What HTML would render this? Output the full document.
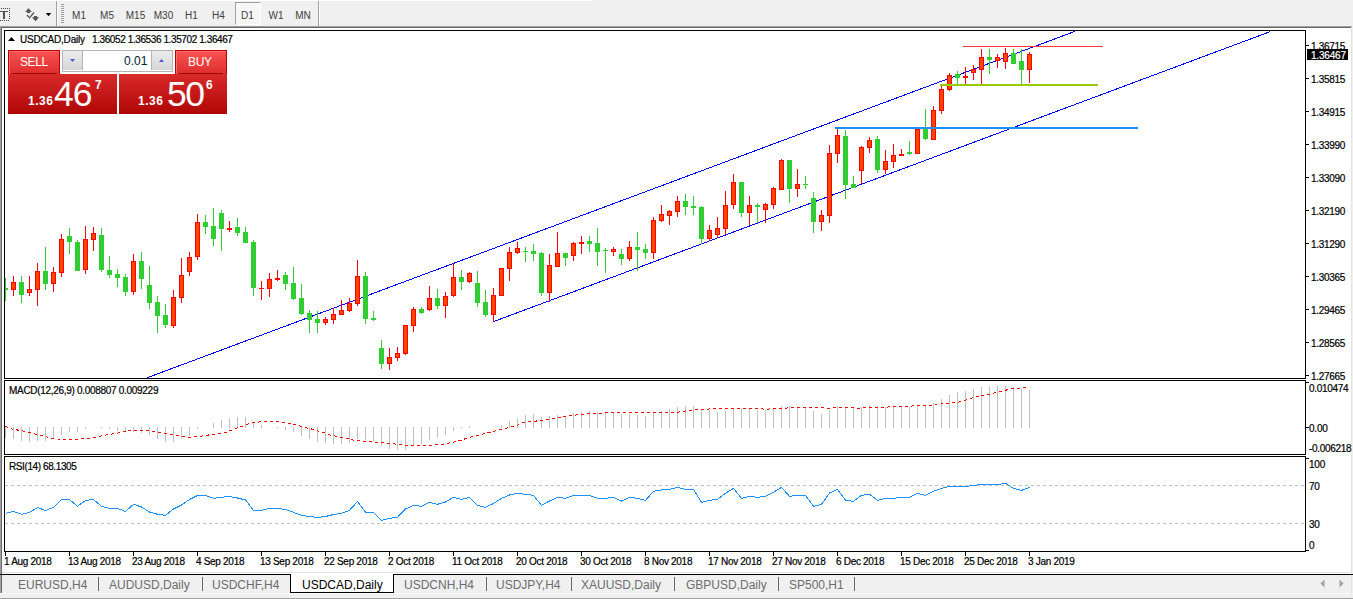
<!DOCTYPE html>
<html><head><meta charset="utf-8"><style>
html,body{margin:0;padding:0;}
body{width:1353px;height:599px;overflow:hidden;position:relative;background:#f0f0f0;font-family:"Liberation Sans", sans-serif;}
.a{position:absolute;}
.t{position:absolute;white-space:pre;line-height:1;-webkit-text-stroke:0.2px currentColor;}
svg{position:absolute;left:0;top:0;}
</style></head><body>

<div class="a" style="left:235px;top:2px;width:24px;height:21px;border:1px solid #a0a0a0;border-right-color:#fff;border-bottom-color:#fff;background:#f7f7f7"></div>
<svg width="1353" height="599" viewBox="0 0 1353 599" shape-rendering="crispEdges">
<g fill="#555">
<rect x="0" y="11" width="8" height="1" fill="#555"/><rect x="3" y="11" width="2" height="8" fill="#555"/>
<rect x="1" y="8" width="1" height="1" fill="#444"/>
<rect x="3" y="8" width="1" height="1" fill="#444"/>
<rect x="5" y="8" width="1" height="1" fill="#444"/>
<rect x="7" y="8" width="1" height="1" fill="#444"/>
<rect x="9" y="8" width="1" height="1" fill="#444"/>
<rect x="0" y="20" width="1" height="1" fill="#444"/>
<rect x="2" y="20" width="1" height="1" fill="#444"/>
<rect x="4" y="20" width="1" height="1" fill="#444"/>
<rect x="6" y="20" width="1" height="1" fill="#444"/>
<rect x="8" y="20" width="1" height="1" fill="#444"/>
<rect x="9" y="10" width="1" height="1" fill="#444"/>
<rect x="9" y="12" width="1" height="1" fill="#444"/>
<rect x="9" y="14" width="1" height="1" fill="#444"/>
<rect x="9" y="16" width="1" height="1" fill="#444"/>
<rect x="9" y="18" width="1" height="1" fill="#444"/>
</g>
<g shape-rendering="geometricPrecision">
<path d="M24.8 12 L28.5 8 L32.2 12 Z" fill="#505050" stroke="#fff" stroke-width="0.6" stroke-opacity="0.6"/>
<rect x="27" y="11.5" width="3" height="1.5" fill="#505050"/>
<path d="M27 15 L29.5 17.8 L34 12.5" stroke="#505050" stroke-width="1.25" fill="none"/>
<rect x="34" y="16" width="3" height="1.6" fill="#505050"/>
<path d="M32 17.3 L35.5 21.2 L39 17.3 Z" fill="#505050"/>
<path d="M45.8 13 L51.2 13 L48.5 16.2 Z" fill="#000"/>
</g>
<rect x="0" y="0" width="592" height="1" fill="#fff"/>
<rect x="56" y="1" width="1" height="25" fill="#a0a0a0"/><rect x="57" y="1" width="1" height="25" fill="#fff"/>
<rect x="61" y="4" width="3" height="1" fill="#a0a0a0"/>
<rect x="61" y="6" width="3" height="1" fill="#a0a0a0"/>
<rect x="61" y="8" width="3" height="1" fill="#a0a0a0"/>
<rect x="61" y="10" width="3" height="1" fill="#a0a0a0"/>
<rect x="61" y="12" width="3" height="1" fill="#a0a0a0"/>
<rect x="61" y="14" width="3" height="1" fill="#a0a0a0"/>
<rect x="61" y="16" width="3" height="1" fill="#a0a0a0"/>
<rect x="61" y="18" width="3" height="1" fill="#a0a0a0"/>
<rect x="61" y="20" width="3" height="1" fill="#a0a0a0"/>
<rect x="61" y="22" width="3" height="1" fill="#a0a0a0"/>
<rect x="318" y="1" width="1" height="25" fill="#a0a0a0"/><rect x="319" y="1" width="1" height="25" fill="#fff"/>
<rect x="0" y="26" width="1352" height="1" fill="#a0a0a0"/>
<rect x="1" y="27" width="1350" height="1" fill="#696969"/>
<rect x="0" y="26" width="1" height="549" fill="#a0a0a0"/>
<rect x="1" y="27" width="1" height="547" fill="#696969"/>
<rect x="2" y="28" width="1349" height="544" fill="#fff"/>
<rect x="1351" y="27" width="1" height="546" fill="#e3e3e3"/>
<rect x="2" y="572" width="1349" height="1" fill="#e3e3e3"/>
<rect x="2" y="573" width="1350" height="1" fill="#fff"/>
<defs><clipPath id="cm"><rect x="5" y="31" width="1300" height="347"/></clipPath><clipPath id="cd"><rect x="5" y="381" width="1300" height="73"/></clipPath><clipPath id="cr"><rect x="5" y="457" width="1300" height="94"/></clipPath></defs>
<g clip-path="url(#cm)">
<line x1="147" y1="377.81" x2="1075" y2="31.35" stroke="#0000ff" stroke-width="1"/>
<line x1="493.5" y1="321.6" x2="1270" y2="31.7" stroke="#0000ff" stroke-width="1"/>
<rect x="5" y="278" width="1" height="23" fill="#32cd32"/>
<rect x="3" y="288" width="5" height="2" fill="#32cd32"/>
<rect x="13" y="276" width="1" height="20" fill="#ff0000"/>
<rect x="11" y="282" width="5" height="8" fill="#ff0000"/>
<rect x="12" y="283" width="3" height="6" fill="#ff4500"/>
<rect x="21" y="276" width="1" height="27" fill="#32cd32"/>
<rect x="19" y="282" width="5" height="13" fill="#32cd32"/>
<rect x="29" y="276" width="1" height="20" fill="#ff0000"/>
<rect x="27" y="289" width="5" height="4" fill="#ff0000"/>
<rect x="28" y="290" width="3" height="2" fill="#ff4500"/>
<rect x="37" y="263" width="1" height="43" fill="#ff0000"/>
<rect x="35" y="271" width="5" height="19" fill="#ff0000"/>
<rect x="36" y="272" width="3" height="17" fill="#ff4500"/>
<rect x="45" y="247" width="1" height="43" fill="#32cd32"/>
<rect x="43" y="271" width="5" height="13" fill="#32cd32"/>
<rect x="53" y="267" width="1" height="25" fill="#ff0000"/>
<rect x="51" y="272" width="5" height="12" fill="#ff0000"/>
<rect x="52" y="273" width="3" height="10" fill="#ff4500"/>
<rect x="61" y="234" width="1" height="43" fill="#ff0000"/>
<rect x="59" y="239" width="5" height="34" fill="#ff0000"/>
<rect x="60" y="240" width="3" height="32" fill="#ff4500"/>
<rect x="69" y="228" width="1" height="26" fill="#32cd32"/>
<rect x="67" y="236" width="5" height="6" fill="#32cd32"/>
<rect x="77" y="240" width="1" height="31" fill="#32cd32"/>
<rect x="75" y="242" width="5" height="29" fill="#32cd32"/>
<rect x="85" y="226" width="1" height="48" fill="#ff0000"/>
<rect x="83" y="239" width="5" height="31" fill="#ff0000"/>
<rect x="84" y="240" width="3" height="29" fill="#ff4500"/>
<rect x="93" y="227" width="1" height="24" fill="#ff0000"/>
<rect x="91" y="233" width="5" height="7" fill="#ff0000"/>
<rect x="92" y="234" width="3" height="5" fill="#ff4500"/>
<rect x="101" y="228" width="1" height="44" fill="#32cd32"/>
<rect x="99" y="235" width="5" height="35" fill="#32cd32"/>
<rect x="109" y="256" width="1" height="22" fill="#32cd32"/>
<rect x="107" y="270" width="5" height="5" fill="#32cd32"/>
<rect x="117" y="269" width="1" height="18" fill="#32cd32"/>
<rect x="115" y="274" width="5" height="4" fill="#32cd32"/>
<rect x="125" y="274" width="1" height="22" fill="#32cd32"/>
<rect x="123" y="277" width="5" height="15" fill="#32cd32"/>
<rect x="133" y="254" width="1" height="41" fill="#ff0000"/>
<rect x="131" y="261" width="5" height="31" fill="#ff0000"/>
<rect x="132" y="262" width="3" height="29" fill="#ff4500"/>
<rect x="141" y="252" width="1" height="37" fill="#32cd32"/>
<rect x="139" y="261" width="5" height="18" fill="#32cd32"/>
<rect x="149" y="266" width="1" height="43" fill="#32cd32"/>
<rect x="147" y="285" width="5" height="18" fill="#32cd32"/>
<rect x="157" y="296" width="1" height="37" fill="#32cd32"/>
<rect x="155" y="302" width="5" height="14" fill="#32cd32"/>
<rect x="165" y="304" width="1" height="24" fill="#32cd32"/>
<rect x="163" y="315" width="5" height="10" fill="#32cd32"/>
<rect x="173" y="290" width="1" height="38" fill="#ff0000"/>
<rect x="171" y="297" width="5" height="29" fill="#ff0000"/>
<rect x="172" y="298" width="3" height="27" fill="#ff4500"/>
<rect x="181" y="258" width="1" height="45" fill="#ff0000"/>
<rect x="179" y="275" width="5" height="23" fill="#ff0000"/>
<rect x="180" y="276" width="3" height="21" fill="#ff4500"/>
<rect x="189" y="252" width="1" height="24" fill="#ff0000"/>
<rect x="187" y="257" width="5" height="15" fill="#ff0000"/>
<rect x="188" y="258" width="3" height="13" fill="#ff4500"/>
<rect x="197" y="214" width="1" height="46" fill="#ff0000"/>
<rect x="195" y="222" width="5" height="35" fill="#ff0000"/>
<rect x="196" y="223" width="3" height="33" fill="#ff4500"/>
<rect x="205" y="215" width="1" height="19" fill="#32cd32"/>
<rect x="203" y="222" width="5" height="5" fill="#32cd32"/>
<rect x="213" y="208" width="1" height="38" fill="#32cd32"/>
<rect x="211" y="226" width="5" height="13" fill="#32cd32"/>
<rect x="221" y="210" width="1" height="41" fill="#32cd32"/>
<rect x="219" y="213" width="5" height="16" fill="#32cd32"/>
<rect x="229" y="221" width="1" height="11" fill="#ff0000"/>
<rect x="227" y="228" width="5" height="2" fill="#ff0000"/>
<rect x="237" y="218" width="1" height="18" fill="#32cd32"/>
<rect x="235" y="227" width="5" height="6" fill="#32cd32"/>
<rect x="245" y="227" width="1" height="16" fill="#32cd32"/>
<rect x="243" y="232" width="5" height="11" fill="#32cd32"/>
<rect x="253" y="240" width="1" height="56" fill="#32cd32"/>
<rect x="251" y="242" width="5" height="46" fill="#32cd32"/>
<rect x="261" y="281" width="1" height="19" fill="#ff0000"/>
<rect x="259" y="288" width="5" height="1" fill="#ff0000"/>
<rect x="269" y="273" width="1" height="24" fill="#ff0000"/>
<rect x="267" y="279" width="5" height="10" fill="#ff0000"/>
<rect x="268" y="280" width="3" height="8" fill="#ff4500"/>
<rect x="277" y="270" width="1" height="11" fill="#ff0000"/>
<rect x="275" y="278" width="5" height="2" fill="#ff0000"/>
<rect x="285" y="272" width="1" height="18" fill="#32cd32"/>
<rect x="283" y="275" width="5" height="9" fill="#32cd32"/>
<rect x="293" y="267" width="1" height="33" fill="#32cd32"/>
<rect x="291" y="283" width="5" height="16" fill="#32cd32"/>
<rect x="301" y="284" width="1" height="31" fill="#32cd32"/>
<rect x="299" y="298" width="5" height="16" fill="#32cd32"/>
<rect x="309" y="310" width="1" height="23" fill="#32cd32"/>
<rect x="307" y="313" width="5" height="7" fill="#32cd32"/>
<rect x="317" y="311" width="1" height="22" fill="#32cd32"/>
<rect x="315" y="319" width="5" height="4" fill="#32cd32"/>
<rect x="325" y="317" width="1" height="8" fill="#ff0000"/>
<rect x="323" y="319" width="5" height="4" fill="#ff0000"/>
<rect x="324" y="320" width="3" height="2" fill="#ff4500"/>
<rect x="333" y="308" width="1" height="16" fill="#ff0000"/>
<rect x="331" y="314" width="5" height="6" fill="#ff0000"/>
<rect x="332" y="315" width="3" height="4" fill="#ff4500"/>
<rect x="341" y="300" width="1" height="15" fill="#ff0000"/>
<rect x="339" y="310" width="5" height="5" fill="#ff0000"/>
<rect x="340" y="311" width="3" height="3" fill="#ff4500"/>
<rect x="349" y="298" width="1" height="14" fill="#ff0000"/>
<rect x="347" y="303" width="5" height="8" fill="#ff0000"/>
<rect x="348" y="304" width="3" height="6" fill="#ff4500"/>
<rect x="357" y="260" width="1" height="46" fill="#ff0000"/>
<rect x="355" y="276" width="5" height="28" fill="#ff0000"/>
<rect x="356" y="277" width="3" height="26" fill="#ff4500"/>
<rect x="365" y="272" width="1" height="52" fill="#32cd32"/>
<rect x="363" y="276" width="5" height="43" fill="#32cd32"/>
<rect x="373" y="311" width="1" height="10" fill="#32cd32"/>
<rect x="371" y="318" width="5" height="2" fill="#32cd32"/>
<rect x="381" y="340" width="1" height="29" fill="#32cd32"/>
<rect x="379" y="348" width="5" height="16" fill="#32cd32"/>
<rect x="389" y="348" width="1" height="22" fill="#ff0000"/>
<rect x="387" y="357" width="5" height="7" fill="#ff0000"/>
<rect x="388" y="358" width="3" height="5" fill="#ff4500"/>
<rect x="397" y="347" width="1" height="14" fill="#ff0000"/>
<rect x="395" y="353" width="5" height="5" fill="#ff0000"/>
<rect x="396" y="354" width="3" height="3" fill="#ff4500"/>
<rect x="405" y="325" width="1" height="30" fill="#ff0000"/>
<rect x="403" y="325" width="5" height="29" fill="#ff0000"/>
<rect x="404" y="326" width="3" height="27" fill="#ff4500"/>
<rect x="413" y="307" width="1" height="25" fill="#ff0000"/>
<rect x="411" y="309" width="5" height="17" fill="#ff0000"/>
<rect x="412" y="310" width="3" height="15" fill="#ff4500"/>
<rect x="421" y="307" width="1" height="7" fill="#32cd32"/>
<rect x="419" y="309" width="5" height="4" fill="#32cd32"/>
<rect x="429" y="286" width="1" height="25" fill="#ff0000"/>
<rect x="427" y="298" width="5" height="12" fill="#ff0000"/>
<rect x="428" y="299" width="3" height="10" fill="#ff4500"/>
<rect x="437" y="289" width="1" height="20" fill="#32cd32"/>
<rect x="435" y="298" width="5" height="8" fill="#32cd32"/>
<rect x="445" y="292" width="1" height="26" fill="#ff0000"/>
<rect x="443" y="296" width="5" height="10" fill="#ff0000"/>
<rect x="444" y="297" width="3" height="8" fill="#ff4500"/>
<rect x="453" y="263" width="1" height="34" fill="#ff0000"/>
<rect x="451" y="277" width="5" height="19" fill="#ff0000"/>
<rect x="452" y="278" width="3" height="17" fill="#ff4500"/>
<rect x="461" y="270" width="1" height="20" fill="#32cd32"/>
<rect x="459" y="277" width="5" height="5" fill="#32cd32"/>
<rect x="469" y="272" width="1" height="11" fill="#ff0000"/>
<rect x="467" y="273" width="5" height="9" fill="#ff0000"/>
<rect x="468" y="274" width="3" height="7" fill="#ff4500"/>
<rect x="477" y="271" width="1" height="36" fill="#32cd32"/>
<rect x="475" y="283" width="5" height="20" fill="#32cd32"/>
<rect x="485" y="290" width="1" height="27" fill="#32cd32"/>
<rect x="483" y="302" width="5" height="13" fill="#32cd32"/>
<rect x="493" y="288" width="1" height="34" fill="#ff0000"/>
<rect x="491" y="295" width="5" height="20" fill="#ff0000"/>
<rect x="492" y="296" width="3" height="18" fill="#ff4500"/>
<rect x="501" y="268" width="1" height="28" fill="#ff0000"/>
<rect x="499" y="268" width="5" height="28" fill="#ff0000"/>
<rect x="500" y="269" width="3" height="26" fill="#ff4500"/>
<rect x="509" y="247" width="1" height="34" fill="#ff0000"/>
<rect x="507" y="252" width="5" height="17" fill="#ff0000"/>
<rect x="508" y="253" width="3" height="15" fill="#ff4500"/>
<rect x="517" y="242" width="1" height="12" fill="#ff0000"/>
<rect x="515" y="248" width="5" height="5" fill="#ff0000"/>
<rect x="516" y="249" width="3" height="3" fill="#ff4500"/>
<rect x="525" y="247" width="1" height="15" fill="#32cd32"/>
<rect x="523" y="251" width="5" height="1" fill="#32cd32"/>
<rect x="533" y="244" width="1" height="17" fill="#32cd32"/>
<rect x="531" y="251" width="5" height="3" fill="#32cd32"/>
<rect x="541" y="252" width="1" height="44" fill="#32cd32"/>
<rect x="539" y="253" width="5" height="40" fill="#32cd32"/>
<rect x="549" y="254" width="1" height="48" fill="#ff0000"/>
<rect x="547" y="265" width="5" height="28" fill="#ff0000"/>
<rect x="548" y="266" width="3" height="26" fill="#ff4500"/>
<rect x="557" y="232" width="1" height="35" fill="#ff0000"/>
<rect x="555" y="253" width="5" height="14" fill="#ff0000"/>
<rect x="556" y="254" width="3" height="12" fill="#ff4500"/>
<rect x="565" y="253" width="1" height="13" fill="#32cd32"/>
<rect x="563" y="253" width="5" height="5" fill="#32cd32"/>
<rect x="573" y="242" width="1" height="19" fill="#ff0000"/>
<rect x="571" y="243" width="5" height="13" fill="#ff0000"/>
<rect x="572" y="244" width="3" height="11" fill="#ff4500"/>
<rect x="581" y="236" width="1" height="18" fill="#ff0000"/>
<rect x="579" y="242" width="5" height="2" fill="#ff0000"/>
<rect x="589" y="236" width="1" height="16" fill="#32cd32"/>
<rect x="587" y="241" width="5" height="3" fill="#32cd32"/>
<rect x="597" y="228" width="1" height="38" fill="#32cd32"/>
<rect x="595" y="243" width="5" height="9" fill="#32cd32"/>
<rect x="605" y="248" width="1" height="25" fill="#32cd32"/>
<rect x="603" y="250" width="5" height="1" fill="#32cd32"/>
<rect x="613" y="247" width="1" height="9" fill="#ff0000"/>
<rect x="611" y="249" width="5" height="3" fill="#ff0000"/>
<rect x="612" y="250" width="3" height="1" fill="#ff4500"/>
<rect x="621" y="249" width="1" height="16" fill="#32cd32"/>
<rect x="619" y="254" width="5" height="5" fill="#32cd32"/>
<rect x="629" y="241" width="1" height="20" fill="#ff0000"/>
<rect x="627" y="247" width="5" height="12" fill="#ff0000"/>
<rect x="628" y="248" width="3" height="10" fill="#ff4500"/>
<rect x="637" y="232" width="1" height="39" fill="#32cd32"/>
<rect x="635" y="247" width="5" height="3" fill="#32cd32"/>
<rect x="645" y="244" width="1" height="15" fill="#32cd32"/>
<rect x="643" y="249" width="5" height="4" fill="#32cd32"/>
<rect x="653" y="217" width="1" height="42" fill="#ff0000"/>
<rect x="651" y="220" width="5" height="33" fill="#ff0000"/>
<rect x="652" y="221" width="3" height="31" fill="#ff4500"/>
<rect x="661" y="205" width="1" height="17" fill="#ff0000"/>
<rect x="659" y="214" width="5" height="7" fill="#ff0000"/>
<rect x="660" y="215" width="3" height="5" fill="#ff4500"/>
<rect x="669" y="210" width="1" height="15" fill="#ff0000"/>
<rect x="667" y="211" width="5" height="5" fill="#ff0000"/>
<rect x="668" y="212" width="3" height="3" fill="#ff4500"/>
<rect x="677" y="196" width="1" height="21" fill="#ff0000"/>
<rect x="675" y="201" width="5" height="11" fill="#ff0000"/>
<rect x="676" y="202" width="3" height="9" fill="#ff4500"/>
<rect x="685" y="194" width="1" height="21" fill="#32cd32"/>
<rect x="683" y="201" width="5" height="6" fill="#32cd32"/>
<rect x="693" y="196" width="1" height="19" fill="#32cd32"/>
<rect x="691" y="206" width="5" height="2" fill="#32cd32"/>
<rect x="701" y="206" width="1" height="38" fill="#32cd32"/>
<rect x="699" y="207" width="5" height="32" fill="#32cd32"/>
<rect x="709" y="225" width="1" height="16" fill="#ff0000"/>
<rect x="707" y="230" width="5" height="9" fill="#ff0000"/>
<rect x="708" y="231" width="3" height="7" fill="#ff4500"/>
<rect x="717" y="217" width="1" height="21" fill="#ff0000"/>
<rect x="715" y="228" width="5" height="7" fill="#ff0000"/>
<rect x="716" y="229" width="3" height="5" fill="#ff4500"/>
<rect x="725" y="191" width="1" height="44" fill="#ff0000"/>
<rect x="723" y="205" width="5" height="24" fill="#ff0000"/>
<rect x="724" y="206" width="3" height="22" fill="#ff4500"/>
<rect x="733" y="174" width="1" height="35" fill="#ff0000"/>
<rect x="731" y="182" width="5" height="23" fill="#ff0000"/>
<rect x="732" y="183" width="3" height="21" fill="#ff4500"/>
<rect x="741" y="182" width="1" height="35" fill="#32cd32"/>
<rect x="739" y="182" width="5" height="31" fill="#32cd32"/>
<rect x="749" y="196" width="1" height="29" fill="#ff0000"/>
<rect x="747" y="205" width="5" height="8" fill="#ff0000"/>
<rect x="748" y="206" width="3" height="6" fill="#ff4500"/>
<rect x="757" y="203" width="1" height="20" fill="#32cd32"/>
<rect x="755" y="205" width="5" height="2" fill="#32cd32"/>
<rect x="765" y="203" width="1" height="20" fill="#ff0000"/>
<rect x="763" y="204" width="5" height="6" fill="#ff0000"/>
<rect x="764" y="205" width="3" height="4" fill="#ff4500"/>
<rect x="773" y="187" width="1" height="22" fill="#ff0000"/>
<rect x="771" y="188" width="5" height="17" fill="#ff0000"/>
<rect x="772" y="189" width="3" height="15" fill="#ff4500"/>
<rect x="781" y="159" width="1" height="31" fill="#ff0000"/>
<rect x="779" y="160" width="5" height="30" fill="#ff0000"/>
<rect x="780" y="161" width="3" height="28" fill="#ff4500"/>
<rect x="789" y="160" width="1" height="43" fill="#32cd32"/>
<rect x="787" y="160" width="5" height="29" fill="#32cd32"/>
<rect x="797" y="169" width="1" height="28" fill="#ff0000"/>
<rect x="795" y="184" width="5" height="5" fill="#ff0000"/>
<rect x="796" y="185" width="3" height="3" fill="#ff4500"/>
<rect x="805" y="176" width="1" height="13" fill="#32cd32"/>
<rect x="803" y="184" width="5" height="1" fill="#32cd32"/>
<rect x="813" y="192" width="1" height="41" fill="#32cd32"/>
<rect x="811" y="198" width="5" height="24" fill="#32cd32"/>
<rect x="821" y="210" width="1" height="21" fill="#ff0000"/>
<rect x="819" y="215" width="5" height="7" fill="#ff0000"/>
<rect x="820" y="216" width="3" height="5" fill="#ff4500"/>
<rect x="829" y="145" width="1" height="78" fill="#ff0000"/>
<rect x="827" y="153" width="5" height="63" fill="#ff0000"/>
<rect x="828" y="154" width="3" height="61" fill="#ff4500"/>
<rect x="837" y="129" width="1" height="34" fill="#ff0000"/>
<rect x="835" y="135" width="5" height="19" fill="#ff0000"/>
<rect x="836" y="136" width="3" height="17" fill="#ff4500"/>
<rect x="845" y="130" width="1" height="69" fill="#32cd32"/>
<rect x="843" y="136" width="5" height="49" fill="#32cd32"/>
<rect x="853" y="176" width="1" height="12" fill="#32cd32"/>
<rect x="851" y="184" width="5" height="4" fill="#32cd32"/>
<rect x="861" y="146" width="1" height="38" fill="#ff0000"/>
<rect x="859" y="147" width="5" height="24" fill="#ff0000"/>
<rect x="860" y="148" width="3" height="22" fill="#ff4500"/>
<rect x="869" y="137" width="1" height="16" fill="#ff0000"/>
<rect x="867" y="140" width="5" height="8" fill="#ff0000"/>
<rect x="868" y="141" width="3" height="6" fill="#ff4500"/>
<rect x="877" y="136" width="1" height="37" fill="#32cd32"/>
<rect x="875" y="139" width="5" height="31" fill="#32cd32"/>
<rect x="885" y="150" width="1" height="24" fill="#ff0000"/>
<rect x="883" y="161" width="5" height="9" fill="#ff0000"/>
<rect x="884" y="162" width="3" height="7" fill="#ff4500"/>
<rect x="893" y="144" width="1" height="24" fill="#ff0000"/>
<rect x="891" y="155" width="5" height="7" fill="#ff0000"/>
<rect x="892" y="156" width="3" height="5" fill="#ff4500"/>
<rect x="901" y="149" width="1" height="7" fill="#ff0000"/>
<rect x="899" y="154" width="5" height="2" fill="#ff0000"/>
<rect x="909" y="141" width="1" height="14" fill="#32cd32"/>
<rect x="907" y="152" width="5" height="2" fill="#32cd32"/>
<rect x="917" y="128" width="1" height="26" fill="#ff0000"/>
<rect x="915" y="129" width="5" height="25" fill="#ff0000"/>
<rect x="916" y="130" width="3" height="23" fill="#ff4500"/>
<rect x="925" y="109" width="1" height="31" fill="#32cd32"/>
<rect x="923" y="129" width="5" height="10" fill="#32cd32"/>
<rect x="933" y="106" width="1" height="34" fill="#ff0000"/>
<rect x="931" y="110" width="5" height="30" fill="#ff0000"/>
<rect x="932" y="111" width="3" height="28" fill="#ff4500"/>
<rect x="941" y="85" width="1" height="29" fill="#ff0000"/>
<rect x="939" y="89" width="5" height="22" fill="#ff0000"/>
<rect x="940" y="90" width="3" height="20" fill="#ff4500"/>
<rect x="949" y="73" width="1" height="18" fill="#ff0000"/>
<rect x="947" y="75" width="5" height="15" fill="#ff0000"/>
<rect x="948" y="76" width="3" height="13" fill="#ff4500"/>
<rect x="957" y="71" width="1" height="13" fill="#32cd32"/>
<rect x="955" y="74" width="5" height="4" fill="#32cd32"/>
<rect x="965" y="67" width="1" height="17" fill="#ff0000"/>
<rect x="963" y="76" width="5" height="2" fill="#ff0000"/>
<rect x="973" y="65" width="1" height="15" fill="#ff0000"/>
<rect x="971" y="69" width="5" height="4" fill="#ff0000"/>
<rect x="972" y="70" width="3" height="2" fill="#ff4500"/>
<rect x="981" y="49" width="1" height="35" fill="#ff0000"/>
<rect x="979" y="57" width="5" height="13" fill="#ff0000"/>
<rect x="980" y="58" width="3" height="11" fill="#ff4500"/>
<rect x="989" y="49" width="1" height="25" fill="#32cd32"/>
<rect x="987" y="57" width="5" height="3" fill="#32cd32"/>
<rect x="997" y="54" width="1" height="14" fill="#ff0000"/>
<rect x="995" y="57" width="5" height="4" fill="#ff0000"/>
<rect x="996" y="58" width="3" height="2" fill="#ff4500"/>
<rect x="1005" y="48" width="1" height="21" fill="#ff0000"/>
<rect x="1003" y="53" width="5" height="9" fill="#ff0000"/>
<rect x="1004" y="54" width="3" height="7" fill="#ff4500"/>
<rect x="1013" y="49" width="1" height="15" fill="#32cd32"/>
<rect x="1011" y="53" width="5" height="11" fill="#32cd32"/>
<rect x="1021" y="49" width="1" height="35" fill="#32cd32"/>
<rect x="1019" y="61" width="5" height="9" fill="#32cd32"/>
<rect x="1029" y="52" width="1" height="31" fill="#ff0000"/>
<rect x="1027" y="54" width="5" height="16" fill="#ff0000"/>
<rect x="1028" y="55" width="3" height="14" fill="#ff4500"/>
<rect x="963" y="46" width="140" height="1" fill="#ff3838"/>
<rect x="940" y="84" width="158" height="2" fill="#99cc00"/>
<rect x="835" y="127" width="303" height="2" fill="#1e90ff"/>
</g>
<g clip-path="url(#cd)">
<rect x="5" y="427" width="1" height="11" fill="#c0c0c0"/>
<rect x="13" y="427" width="1" height="12" fill="#c0c0c0"/>
<rect x="21" y="427" width="1" height="14" fill="#c0c0c0"/>
<rect x="29" y="427" width="1" height="15" fill="#c0c0c0"/>
<rect x="37" y="427" width="1" height="14" fill="#c0c0c0"/>
<rect x="45" y="427" width="1" height="14" fill="#c0c0c0"/>
<rect x="53" y="427" width="1" height="12" fill="#c0c0c0"/>
<rect x="61" y="427" width="1" height="8" fill="#c0c0c0"/>
<rect x="69" y="427" width="1" height="5" fill="#c0c0c0"/>
<rect x="77" y="427" width="1" height="5" fill="#c0c0c0"/>
<rect x="85" y="427" width="1" height="2" fill="#c0c0c0"/>
<rect x="101" y="427" width="1" height="1" fill="#c0c0c0"/>
<rect x="109" y="427" width="1" height="2" fill="#c0c0c0"/>
<rect x="117" y="427" width="1" height="4" fill="#c0c0c0"/>
<rect x="125" y="427" width="1" height="4" fill="#c0c0c0"/>
<rect x="133" y="427" width="1" height="5" fill="#c0c0c0"/>
<rect x="141" y="427" width="1" height="6" fill="#c0c0c0"/>
<rect x="149" y="427" width="1" height="8" fill="#c0c0c0"/>
<rect x="157" y="427" width="1" height="12" fill="#c0c0c0"/>
<rect x="165" y="427" width="1" height="15" fill="#c0c0c0"/>
<rect x="173" y="427" width="1" height="15" fill="#c0c0c0"/>
<rect x="181" y="427" width="1" height="12" fill="#c0c0c0"/>
<rect x="189" y="427" width="1" height="9" fill="#c0c0c0"/>
<rect x="197" y="427" width="1" height="2" fill="#c0c0c0"/>
<rect x="213" y="423" width="1" height="5" fill="#c0c0c0"/>
<rect x="221" y="420" width="1" height="8" fill="#c0c0c0"/>
<rect x="229" y="418" width="1" height="10" fill="#c0c0c0"/>
<rect x="237" y="417" width="1" height="11" fill="#c0c0c0"/>
<rect x="245" y="417" width="1" height="11" fill="#c0c0c0"/>
<rect x="253" y="422" width="1" height="6" fill="#c0c0c0"/>
<rect x="261" y="425" width="1" height="3" fill="#c0c0c0"/>
<rect x="277" y="427" width="1" height="1" fill="#c0c0c0"/>
<rect x="285" y="427" width="1" height="3" fill="#c0c0c0"/>
<rect x="293" y="427" width="1" height="5" fill="#c0c0c0"/>
<rect x="301" y="427" width="1" height="9" fill="#c0c0c0"/>
<rect x="309" y="427" width="1" height="12" fill="#c0c0c0"/>
<rect x="317" y="427" width="1" height="15" fill="#c0c0c0"/>
<rect x="325" y="427" width="1" height="16" fill="#c0c0c0"/>
<rect x="333" y="427" width="1" height="17" fill="#c0c0c0"/>
<rect x="341" y="427" width="1" height="17" fill="#c0c0c0"/>
<rect x="349" y="427" width="1" height="16" fill="#c0c0c0"/>
<rect x="357" y="427" width="1" height="12" fill="#c0c0c0"/>
<rect x="365" y="427" width="1" height="13" fill="#c0c0c0"/>
<rect x="373" y="427" width="1" height="14" fill="#c0c0c0"/>
<rect x="381" y="427" width="1" height="19" fill="#c0c0c0"/>
<rect x="389" y="427" width="1" height="22" fill="#c0c0c0"/>
<rect x="397" y="427" width="1" height="23" fill="#c0c0c0"/>
<rect x="405" y="427" width="1" height="23" fill="#c0c0c0"/>
<rect x="413" y="427" width="1" height="19" fill="#c0c0c0"/>
<rect x="421" y="427" width="1" height="17" fill="#c0c0c0"/>
<rect x="429" y="427" width="1" height="13" fill="#c0c0c0"/>
<rect x="437" y="427" width="1" height="11" fill="#c0c0c0"/>
<rect x="445" y="427" width="1" height="8" fill="#c0c0c0"/>
<rect x="453" y="427" width="1" height="4" fill="#c0c0c0"/>
<rect x="461" y="427" width="1" height="1" fill="#c0c0c0"/>
<rect x="469" y="426" width="1" height="2" fill="#c0c0c0"/>
<rect x="501" y="425" width="1" height="3" fill="#c0c0c0"/>
<rect x="509" y="421" width="1" height="7" fill="#c0c0c0"/>
<rect x="517" y="418" width="1" height="10" fill="#c0c0c0"/>
<rect x="525" y="415" width="1" height="13" fill="#c0c0c0"/>
<rect x="533" y="414" width="1" height="14" fill="#c0c0c0"/>
<rect x="541" y="417" width="1" height="11" fill="#c0c0c0"/>
<rect x="549" y="416" width="1" height="12" fill="#c0c0c0"/>
<rect x="557" y="415" width="1" height="13" fill="#c0c0c0"/>
<rect x="565" y="416" width="1" height="12" fill="#c0c0c0"/>
<rect x="573" y="413" width="1" height="15" fill="#c0c0c0"/>
<rect x="581" y="412" width="1" height="16" fill="#c0c0c0"/>
<rect x="589" y="411" width="1" height="17" fill="#c0c0c0"/>
<rect x="597" y="412" width="1" height="16" fill="#c0c0c0"/>
<rect x="605" y="413" width="1" height="15" fill="#c0c0c0"/>
<rect x="613" y="413" width="1" height="15" fill="#c0c0c0"/>
<rect x="621" y="414" width="1" height="14" fill="#c0c0c0"/>
<rect x="629" y="414" width="1" height="14" fill="#c0c0c0"/>
<rect x="637" y="415" width="1" height="13" fill="#c0c0c0"/>
<rect x="645" y="416" width="1" height="12" fill="#c0c0c0"/>
<rect x="653" y="413" width="1" height="15" fill="#c0c0c0"/>
<rect x="661" y="411" width="1" height="17" fill="#c0c0c0"/>
<rect x="669" y="409" width="1" height="19" fill="#c0c0c0"/>
<rect x="677" y="407" width="1" height="21" fill="#c0c0c0"/>
<rect x="685" y="406" width="1" height="22" fill="#c0c0c0"/>
<rect x="693" y="406" width="1" height="22" fill="#c0c0c0"/>
<rect x="701" y="409" width="1" height="19" fill="#c0c0c0"/>
<rect x="709" y="410" width="1" height="18" fill="#c0c0c0"/>
<rect x="717" y="412" width="1" height="16" fill="#c0c0c0"/>
<rect x="725" y="411" width="1" height="17" fill="#c0c0c0"/>
<rect x="733" y="409" width="1" height="19" fill="#c0c0c0"/>
<rect x="741" y="409" width="1" height="19" fill="#c0c0c0"/>
<rect x="749" y="409" width="1" height="19" fill="#c0c0c0"/>
<rect x="757" y="410" width="1" height="18" fill="#c0c0c0"/>
<rect x="765" y="410" width="1" height="18" fill="#c0c0c0"/>
<rect x="773" y="409" width="1" height="19" fill="#c0c0c0"/>
<rect x="781" y="406" width="1" height="22" fill="#c0c0c0"/>
<rect x="789" y="406" width="1" height="22" fill="#c0c0c0"/>
<rect x="797" y="407" width="1" height="21" fill="#c0c0c0"/>
<rect x="805" y="407" width="1" height="21" fill="#c0c0c0"/>
<rect x="813" y="411" width="1" height="17" fill="#c0c0c0"/>
<rect x="821" y="414" width="1" height="14" fill="#c0c0c0"/>
<rect x="829" y="410" width="1" height="18" fill="#c0c0c0"/>
<rect x="837" y="406" width="1" height="22" fill="#c0c0c0"/>
<rect x="845" y="407" width="1" height="21" fill="#c0c0c0"/>
<rect x="853" y="408" width="1" height="20" fill="#c0c0c0"/>
<rect x="861" y="407" width="1" height="21" fill="#c0c0c0"/>
<rect x="869" y="405" width="1" height="23" fill="#c0c0c0"/>
<rect x="877" y="406" width="1" height="22" fill="#c0c0c0"/>
<rect x="885" y="407" width="1" height="21" fill="#c0c0c0"/>
<rect x="893" y="406" width="1" height="22" fill="#c0c0c0"/>
<rect x="901" y="406" width="1" height="22" fill="#c0c0c0"/>
<rect x="909" y="407" width="1" height="21" fill="#c0c0c0"/>
<rect x="917" y="405" width="1" height="23" fill="#c0c0c0"/>
<rect x="925" y="405" width="1" height="23" fill="#c0c0c0"/>
<rect x="933" y="403" width="1" height="25" fill="#c0c0c0"/>
<rect x="941" y="399" width="1" height="29" fill="#c0c0c0"/>
<rect x="949" y="395" width="1" height="33" fill="#c0c0c0"/>
<rect x="957" y="392" width="1" height="36" fill="#c0c0c0"/>
<rect x="965" y="391" width="1" height="37" fill="#c0c0c0"/>
<rect x="973" y="389" width="1" height="39" fill="#c0c0c0"/>
<rect x="981" y="387" width="1" height="41" fill="#c0c0c0"/>
<rect x="989" y="386" width="1" height="42" fill="#c0c0c0"/>
<rect x="997" y="386" width="1" height="42" fill="#c0c0c0"/>
<rect x="1005" y="386" width="1" height="42" fill="#c0c0c0"/>
<rect x="1013" y="387" width="1" height="41" fill="#c0c0c0"/>
<rect x="1021" y="389" width="1" height="39" fill="#c0c0c0"/>
<rect x="1029" y="390" width="1" height="38" fill="#c0c0c0"/>
<polyline points="5.0,426.3 13.0,429.5 21.0,430.4 29.0,432.5 37.0,434.6 45.0,436.5 53.0,438.5 61.0,439.4 69.0,439.4 77.0,439.5 85.0,438.6 93.0,437.6 101.0,436.0 109.0,434.5 117.0,433.3 126.0,431.3 132.0,430.4 144.0,430.4 151.0,431.3 157.0,432.4 169.0,434.0 181.0,436.4 187.0,437.4 199.0,436.4 212.0,434.5 224.0,433.0 230.0,430.7 236.0,428.3 242.0,426.3 248.0,424.0 254.0,422.5 265.0,421.4 277.0,421.4 284.0,422.6 294.0,424.4 301.0,426.4 313.0,429.4 325.0,433.0 331.0,435.3 343.0,437.5 355.0,440.5 367.0,441.5 379.0,442.5 391.0,443.5 403.0,445.0 433.0,445.0 445.0,444.3 451.0,442.5 457.0,441.5 469.0,437.5 481.0,434.5 493.0,431.4 505.0,428.5 517.0,425.4 523.0,422.6 535.0,421.2 549.0,419.4 557.0,418.0 565.0,416.4 581.0,414.4 597.0,413.4 613.0,412.4 677.0,412.4 685.0,411.0 693.0,410.0 701.0,409.4 717.0,408.6 757.0,408.4 765.0,409.2 781.0,408.4 797.0,407.4 820.0,407.4 826.0,408.4 835.0,407.4 850.0,407.4 857.0,408.4 865.0,407.4 885.0,407.4 893.0,406.4 909.0,406.4 917.0,405.4 933.0,405.4 941.0,404.0 957.0,402.4 965.0,400.4 973.0,397.6 981.0,396.0 989.0,394.4 997.0,392.0 1005.0,390.4 1013.0,388.4 1029.0,387.6" fill="none" stroke="#ff0000" stroke-width="1" stroke-dasharray="3 3"/>
</g>
<g clip-path="url(#cr)">
<line x1="5" y1="485.5" x2="1305" y2="485.5" stroke="#c0c0c0" stroke-width="1" stroke-dasharray="3 3"/>
<line x1="5" y1="523.5" x2="1305" y2="523.5" stroke="#c0c0c0" stroke-width="1" stroke-dasharray="3 3"/>
<polyline points="5.5,513.3 13.5,511.5 21.5,514.3 29.5,512.5 37.5,507.5 45.5,510.5 53.5,507.3 61.5,499.5 69.5,499.5 77.5,506.3 85.5,500.5 93.5,499.5 101.5,506.3 109.5,508.3 117.5,508.3 125.5,511.5 133.5,504.3 141.5,507.0 149.5,512.0 157.5,514.3 165.5,515.3 173.5,509.0 181.5,505.0 189.5,499.5 197.5,495.5 205.5,495.5 213.5,498.3 221.5,497.3 229.5,496.5 237.5,498.0 245.5,500.0 253.5,510.3 261.5,510.3 269.5,508.3 277.5,508.3 285.5,509.5 293.5,512.3 301.5,515.3 309.5,516.5 317.5,517.5 325.5,516.5 333.5,514.5 341.5,513.3 349.5,510.3 357.5,501.5 365.5,512.3 373.5,512.3 381.5,520.3 389.5,518.3 397.5,517.3 405.5,509.0 413.5,505.5 421.5,506.3 429.5,502.3 437.5,504.3 445.5,502.0 453.5,497.3 461.5,499.3 469.5,497.3 477.5,505.3 485.5,507.3 493.5,503.5 501.5,498.3 509.5,495.0 517.5,493.3 525.5,494.3 533.5,495.3 541.5,505.3 549.5,501.0 557.5,497.3 565.5,498.3 573.5,495.3 581.5,495.3 589.5,495.3 597.5,498.3 605.5,498.3 613.5,497.3 621.5,501.0 629.5,497.3 637.5,498.3 645.5,500.3 653.5,491.3 661.5,490.0 669.5,489.4 677.5,487.4 685.5,489.4 693.5,489.4 701.5,502.3 709.5,500.3 717.5,499.3 725.5,493.3 733.5,488.4 741.5,498.3 749.5,496.3 757.5,497.3 765.5,496.3 773.5,492.3 781.5,487.4 789.5,496.3 797.5,495.3 805.5,495.3 813.5,506.3 821.5,504.3 829.5,493.0 837.5,489.4 845.5,500.3 853.5,501.3 861.5,495.3 869.5,494.3 877.5,500.3 885.5,498.3 893.5,498.3 901.5,497.3 909.5,497.3 917.5,493.3 925.5,495.3 933.5,491.3 941.5,488.4 949.5,486.4 957.5,486.4 965.5,486.4 973.5,485.4 981.5,484.4 989.5,484.4 997.5,484.4 1005.5,483.4 1013.5,488.4 1021.5,490.4 1029.5,487.4" fill="none" stroke="#1e90ff" stroke-width="1"/>
</g>
<rect x="4" y="30" width="1302" height="1" fill="#000"/>
<rect x="4" y="378" width="1302" height="1" fill="#000"/>
<rect x="4" y="30" width="1" height="349" fill="#000"/>
<rect x="1305" y="30" width="1" height="349" fill="#000"/>
<rect x="4" y="380" width="1302" height="1" fill="#000"/>
<rect x="4" y="454" width="1302" height="1" fill="#000"/>
<rect x="4" y="380" width="1" height="75" fill="#000"/>
<rect x="1305" y="380" width="1" height="75" fill="#000"/>
<rect x="4" y="456" width="1302" height="1" fill="#000"/>
<rect x="4" y="551" width="1302" height="1" fill="#000"/>
<rect x="4" y="456" width="1" height="96" fill="#000"/>
<rect x="1305" y="456" width="1" height="96" fill="#000"/>
<rect x="1306" y="45" width="3" height="1" fill="#000"/>
<rect x="1306" y="78" width="3" height="1" fill="#000"/>
<rect x="1306" y="111" width="3" height="1" fill="#000"/>
<rect x="1306" y="144" width="3" height="1" fill="#000"/>
<rect x="1306" y="177" width="3" height="1" fill="#000"/>
<rect x="1306" y="210" width="3" height="1" fill="#000"/>
<rect x="1306" y="243" width="3" height="1" fill="#000"/>
<rect x="1306" y="276" width="3" height="1" fill="#000"/>
<rect x="1306" y="309" width="3" height="1" fill="#000"/>
<rect x="1306" y="342" width="3" height="1" fill="#000"/>
<rect x="1306" y="375" width="3" height="1" fill="#000"/>
<rect x="1306" y="382" width="3" height="1" fill="#000"/>
<rect x="1306" y="427" width="3" height="1" fill="#000"/>
<rect x="1306" y="458" width="3" height="1" fill="#000"/>
<rect x="1306" y="550" width="3" height="1" fill="#000"/>
<rect x="5" y="552" width="1" height="4" fill="#000"/>
<rect x="69" y="552" width="1" height="4" fill="#000"/>
<rect x="133" y="552" width="1" height="4" fill="#000"/>
<rect x="197" y="552" width="1" height="4" fill="#000"/>
<rect x="261" y="552" width="1" height="4" fill="#000"/>
<rect x="325" y="552" width="1" height="4" fill="#000"/>
<rect x="389" y="552" width="1" height="4" fill="#000"/>
<rect x="453" y="552" width="1" height="4" fill="#000"/>
<rect x="517" y="552" width="1" height="4" fill="#000"/>
<rect x="581" y="552" width="1" height="4" fill="#000"/>
<rect x="645" y="552" width="1" height="4" fill="#000"/>
<rect x="709" y="552" width="1" height="4" fill="#000"/>
<rect x="773" y="552" width="1" height="4" fill="#000"/>
<rect x="837" y="552" width="1" height="4" fill="#000"/>
<rect x="901" y="552" width="1" height="4" fill="#000"/>
<rect x="965" y="552" width="1" height="4" fill="#000"/>
<rect x="1029" y="552" width="1" height="4" fill="#000"/>
<rect x="1307" y="49" width="41" height="11" fill="#000"/>
<rect x="0" y="574" width="290" height="1" fill="#000"/>
<rect x="393" y="574" width="960" height="1" fill="#000"/>
<rect x="0" y="575" width="1" height="19" fill="#a0a0a0"/><rect x="1" y="575" width="1" height="19" fill="#696969"/>
<rect x="290" y="574" width="1" height="19" fill="#000"/><rect x="393" y="574" width="1" height="19" fill="#000"/>
<rect x="290" y="592" width="104" height="1" fill="#000"/>
<rect x="291" y="574" width="102" height="18" fill="#fff"/>
<rect x="0" y="593" width="1353" height="1" fill="#fafafa"/>
<rect x="1351" y="575" width="1" height="19" fill="#e3e3e3"/>
<rect x="0" y="598" width="1353" height="1" fill="#a0a0a0"/>
<rect x="98" y="577" width="1" height="14" fill="#696969"/>
<rect x="202" y="577" width="1" height="14" fill="#696969"/>
<rect x="486" y="577" width="1" height="14" fill="#696969"/>
<rect x="571" y="577" width="1" height="14" fill="#696969"/>
<rect x="674" y="577" width="1" height="14" fill="#696969"/>
<rect x="778" y="577" width="1" height="14" fill="#696969"/>
<rect x="854" y="577" width="1" height="14" fill="#696969"/>
<path d="M1324.5 579.5 L1320.5 583.5 L1324.5 587.5 Z" fill="#a0a0a0" shape-rendering="geometricPrecision"/>
<path d="M1339.5 579.5 L1343.5 583.5 L1339.5 587.5 Z" fill="#a0a0a0" shape-rendering="geometricPrecision"/>
</svg>
<div class="t" style="left:59px;width:40px;text-align:center;top:11px;font-size:10px;color:#404040;-webkit-text-stroke:0">M1</div>
<div class="t" style="left:87px;width:40px;text-align:center;top:11px;font-size:10px;color:#404040;-webkit-text-stroke:0">M5</div>
<div class="t" style="left:115.5px;width:40px;text-align:center;top:11px;font-size:10px;color:#404040;-webkit-text-stroke:0">M15</div>
<div class="t" style="left:143.5px;width:40px;text-align:center;top:11px;font-size:10px;color:#404040;-webkit-text-stroke:0">M30</div>
<div class="t" style="left:171.5px;width:40px;text-align:center;top:11px;font-size:10px;color:#404040;-webkit-text-stroke:0">H1</div>
<div class="t" style="left:198.5px;width:40px;text-align:center;top:11px;font-size:10px;color:#404040;-webkit-text-stroke:0">H4</div>
<div class="t" style="left:227.5px;width:40px;text-align:center;top:11px;font-size:10px;color:#404040;-webkit-text-stroke:0">D1</div>
<div class="t" style="left:256px;width:40px;text-align:center;top:11px;font-size:10px;color:#404040;-webkit-text-stroke:0">W1</div>
<div class="t" style="left:283px;width:40px;text-align:center;top:11px;font-size:10px;color:#404040;-webkit-text-stroke:0">MN</div>
<svg width="10" height="8" style="left:8px;top:36px" shape-rendering="crispEdges"><path d="M0 5 L3.5 1 L7 5 Z" fill="#000" shape-rendering="geometricPrecision"/></svg>
<div class="t" style="left:20px;top:35px;font-size:10px;color:#000;letter-spacing:-0.2px">USDCAD,Daily</div>
<div class="t" style="left:92px;top:35px;font-size:10px;color:#000;letter-spacing:-0.4px">1.36052 1.36536 1.35702 1.36467</div>
<div class="t" style="left:1311px;top:42px;font-size:10px;color:#000;letter-spacing:-0.3px">1.36715</div>
<div class="t" style="left:1311px;top:75px;font-size:10px;color:#000;letter-spacing:-0.3px">1.35815</div>
<div class="t" style="left:1311px;top:108px;font-size:10px;color:#000;letter-spacing:-0.3px">1.34915</div>
<div class="t" style="left:1311px;top:141px;font-size:10px;color:#000;letter-spacing:-0.3px">1.33990</div>
<div class="t" style="left:1311px;top:174px;font-size:10px;color:#000;letter-spacing:-0.3px">1.33090</div>
<div class="t" style="left:1311px;top:207px;font-size:10px;color:#000;letter-spacing:-0.3px">1.32190</div>
<div class="t" style="left:1311px;top:240px;font-size:10px;color:#000;letter-spacing:-0.3px">1.31290</div>
<div class="t" style="left:1311px;top:273px;font-size:10px;color:#000;letter-spacing:-0.3px">1.30365</div>
<div class="t" style="left:1311px;top:306px;font-size:10px;color:#000;letter-spacing:-0.3px">1.29465</div>
<div class="t" style="left:1311px;top:339px;font-size:10px;color:#000;letter-spacing:-0.3px">1.28565</div>
<div class="t" style="left:1311px;top:372px;font-size:10px;color:#000;letter-spacing:-0.3px">1.27665</div>
<div class="t" style="left:1311px;top:51px;font-size:10px;color:#fff;letter-spacing:-0.2px">1.36467</div>
<div class="t" style="left:1309px;top:384px;font-size:10px;color:#000;letter-spacing:-0.3px">0.010474</div>
<div class="t" style="left:1309px;top:424px;font-size:10px;color:#000;letter-spacing:-0.2px">0.00</div>
<div class="t" style="left:1309px;top:444px;font-size:10px;color:#000;letter-spacing:-0.3px">-0.006218</div>
<div class="t" style="left:1309px;top:460px;font-size:10px;color:#000;letter-spacing:-0.2px">100</div>
<div class="t" style="left:1309px;top:482px;font-size:10px;color:#000;letter-spacing:-0.2px">70</div>
<div class="t" style="left:1309px;top:520px;font-size:10px;color:#000;letter-spacing:-0.2px">30</div>
<div class="t" style="left:1309px;top:541px;font-size:10px;color:#000;letter-spacing:-0.2px">0</div>
<div class="t" style="left:9px;top:386px;font-size:10px;color:#000;letter-spacing:-0.3px">MACD(12,26,9) 0.008807 0.009229</div>
<div class="t" style="left:9px;top:462px;font-size:10px;color:#000;letter-spacing:-0.4px">RSI(14) 68.1305</div>
<div class="t" style="left:4px;top:557px;font-size:10px;color:#000;letter-spacing:-0.3px">1 Aug 2018</div>
<div class="t" style="left:68px;top:557px;font-size:10px;color:#000;letter-spacing:-0.3px">13 Aug 2018</div>
<div class="t" style="left:132px;top:557px;font-size:10px;color:#000;letter-spacing:-0.3px">23 Aug 2018</div>
<div class="t" style="left:196px;top:557px;font-size:10px;color:#000;letter-spacing:-0.3px">4 Sep 2018</div>
<div class="t" style="left:260px;top:557px;font-size:10px;color:#000;letter-spacing:-0.3px">13 Sep 2018</div>
<div class="t" style="left:324px;top:557px;font-size:10px;color:#000;letter-spacing:-0.3px">22 Sep 2018</div>
<div class="t" style="left:388px;top:557px;font-size:10px;color:#000;letter-spacing:-0.3px">2 Oct 2018</div>
<div class="t" style="left:452px;top:557px;font-size:10px;color:#000;letter-spacing:-0.3px">11 Oct 2018</div>
<div class="t" style="left:516px;top:557px;font-size:10px;color:#000;letter-spacing:-0.3px">20 Oct 2018</div>
<div class="t" style="left:580px;top:557px;font-size:10px;color:#000;letter-spacing:-0.3px">30 Oct 2018</div>
<div class="t" style="left:644px;top:557px;font-size:10px;color:#000;letter-spacing:-0.3px">8 Nov 2018</div>
<div class="t" style="left:708px;top:557px;font-size:10px;color:#000;letter-spacing:-0.3px">17 Nov 2018</div>
<div class="t" style="left:772px;top:557px;font-size:10px;color:#000;letter-spacing:-0.3px">27 Nov 2018</div>
<div class="t" style="left:836px;top:557px;font-size:10px;color:#000;letter-spacing:-0.3px">6 Dec 2018</div>
<div class="t" style="left:900px;top:557px;font-size:10px;color:#000;letter-spacing:-0.3px">15 Dec 2018</div>
<div class="t" style="left:964px;top:557px;font-size:10px;color:#000;letter-spacing:-0.3px">25 Dec 2018</div>
<div class="t" style="left:1028px;top:557px;font-size:10px;color:#000;letter-spacing:-0.3px">3 Jan 2019</div>
<div class="t" style="left:18px;top:579px;font-size:12px;color:#6d6d6d;-webkit-text-stroke:0">EURUSD,H4</div>
<div class="t" style="left:109px;top:579px;font-size:12px;color:#6d6d6d;-webkit-text-stroke:0">AUDUSD,Daily</div>
<div class="t" style="left:212px;top:579px;font-size:12px;color:#6d6d6d;-webkit-text-stroke:0">USDCHF,H4</div>
<div class="t" style="left:302px;top:579px;font-size:12px;color:#000;-webkit-text-stroke:0">USDCAD,Daily</div>
<div class="t" style="left:404px;top:579px;font-size:12px;color:#6d6d6d;-webkit-text-stroke:0">USDCNH,H4</div>
<div class="t" style="left:496px;top:579px;font-size:12px;color:#6d6d6d;-webkit-text-stroke:0">USDJPY,H4</div>
<div class="t" style="left:581px;top:579px;font-size:12px;color:#6d6d6d;-webkit-text-stroke:0">XAUUSD,Daily</div>
<div class="t" style="left:686px;top:579px;font-size:12px;color:#6d6d6d;-webkit-text-stroke:0">GBPUSD,Daily</div>
<div class="t" style="left:789px;top:579px;font-size:12px;color:#6d6d6d;-webkit-text-stroke:0">SP500,H1</div>
<div class="a" style="left:8px;top:50px;width:50px;height:24px;border:1px solid #b40000;border-bottom:0;background:linear-gradient(#fa5252,#dc2c2c);box-shadow:inset 1px 1px 0 #ff6a6a"></div>
<div class="a" style="left:175px;top:50px;width:50px;height:24px;border:1px solid #b40000;border-bottom:0;background:linear-gradient(#fa5252,#dc2c2c);box-shadow:inset 1px 1px 0 #ff6a6a"></div>
<div class="a" style="left:8px;top:74px;width:109px;height:40px;background:linear-gradient(#d92a2a,#b00606);"></div>
<div class="a" style="left:119px;top:74px;width:108px;height:40px;background:linear-gradient(#d92a2a,#b00606);"></div>
<div class="a" style="left:12px;top:73px;width:45px;height:1px;background:#a00000"></div>
<div class="a" style="left:179px;top:73px;width:44px;height:1px;background:#a00000"></div>
<div class="a" style="left:61px;top:50px;width:113px;height:23px;background:#fff"></div>
<div class="a" style="left:62px;top:50px;width:109px;height:20px;border:1px solid #b4b4b4;background:#fff"></div>
<div class="a" style="left:63px;top:51px;width:19px;height:19px;background:linear-gradient(#ececec,#d6d6d6);border-right:1px solid #b4b4b4"></div>
<div class="a" style="left:151px;top:51px;width:20px;height:19px;background:linear-gradient(#ececec,#d6d6d6);border-left:1px solid #b4b4b4"></div>

<svg width="230" height="120" style="left:0;top:0"><path d="M70 59 L75 59 L72.5 62 Z" fill="#4a5cc8"/><path d="M159 62 L164 62 L161.5 59 Z" fill="#4a5cc8"/></svg>
<div class="t" style="left:20px;top:56px;font-size:12px;color:#fff;-webkit-text-stroke:0;letter-spacing:-0.4px">SELL</div>
<div class="t" style="left:188px;top:56px;font-size:12px;color:#fff;-webkit-text-stroke:0;letter-spacing:-0.3px">BUY</div>
<div class="t" style="left:124px;top:55px;font-size:12px;color:#001a3a;-webkit-text-stroke:0">0.01</div>
<div class="t" style="left:28px;top:95px;font-size:12px;color:#fff;font-weight:bold;letter-spacing:0.5px;-webkit-text-stroke:0">1.36</div>
<div class="t" style="left:138px;top:95px;font-size:12px;color:#fff;font-weight:bold;letter-spacing:0.5px;-webkit-text-stroke:0">1.36</div>
<div class="t" style="left:54px;top:77px;font-size:35.5px;color:#fff;-webkit-text-stroke:0;letter-spacing:-1px">46</div>
<div class="t" style="left:167px;top:77px;font-size:35.5px;color:#fff;-webkit-text-stroke:0;letter-spacing:-1.5px">50</div>
<div class="t" style="left:95px;top:79px;font-size:12px;color:#fff;font-weight:bold;-webkit-text-stroke:0">7</div>
<div class="t" style="left:206px;top:79px;font-size:12px;color:#fff;font-weight:bold;-webkit-text-stroke:0">6</div>
</body></html>
